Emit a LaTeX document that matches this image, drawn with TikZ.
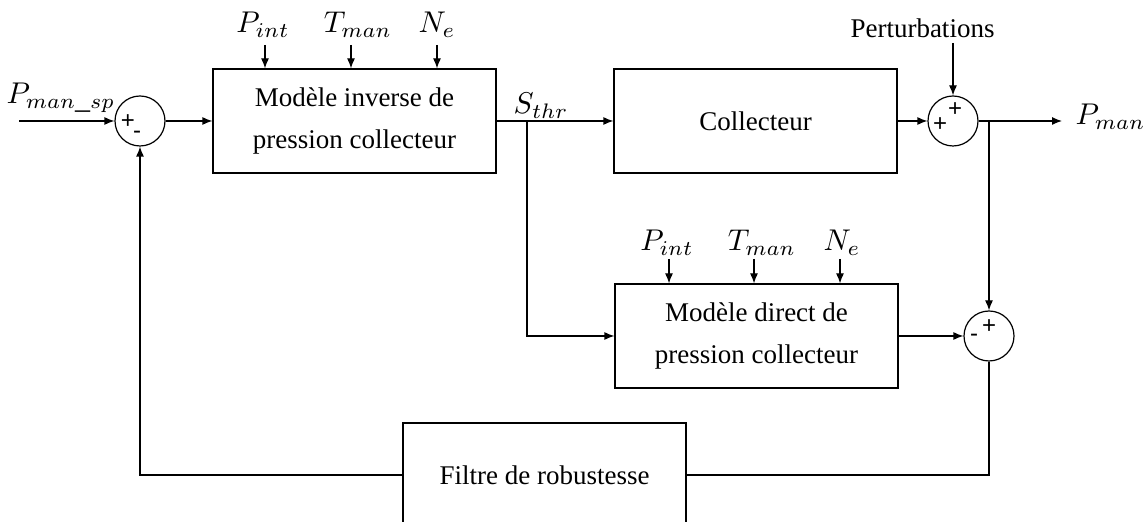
\documentclass[tikz,border=0pt]{standalone}
\usepackage{graphicx}
\usepackage{fontspec}
\setmainfont{Liberation Serif}
\setsansfont{Liberation Sans}
\usetikzlibrary{arrows.meta,calc}
\newcommand{\mathlbl}[1]{\scalebox{1.5}{$#1$}}
\begin{document}
\begin{tikzpicture}[x=0.5pt,y=-0.5pt,
  line width=0.6pt,
  blk/.style={draw,minimum width=141.5pt,minimum height=52pt,inner sep=0pt,align=center,font=\fontsize{13.5}{21}\selectfont},
  sumc/.style={draw,circle,minimum size=25pt,inner sep=0pt},
  sgn/.style={inner sep=0pt,font=\fontsize{12}{12}\sffamily},
  lbl/.style={inner sep=0pt,anchor=base,font=\fontsize{10}{10}\selectfont},
  txt/.style={inner sep=0pt,anchor=base,font=\fontsize{13.5}{16}\selectfont},
  arr/.style={-{Latex[length=5pt,width=4pt]}}]
\useasboundingbox (0,0) rectangle (1145,522);

% blocks and summing junctions
\node[sumc] (s1) at (140,121) {};
\node[blk] (inv) at (354.5,121) {Modèle inverse de\\pression collecteur};
\node[blk] (col) at (755.5,121) {Collecteur};
\node[sumc] (s2) at (953,121) {};
\node[blk] (dir) at (756.5,336) {Modèle direct de\\pression collecteur};
\node[sumc] (s3) at (989,336) {};
\node[blk] (fil) at (544.5,475) {Filtre de robustesse};

% signs
\node[sgn] (s1p) at ($(s1)+(-12,1)$) {+};
\node[sgn] (s1m) at ($(s1)+(-3,14)$) {-};
\node[sgn] (s2a) at ($(s2)+(-13,4)$) {+};
\node[sgn] (s2b) at ($(s2)+(2,-11)$) {+};
\node[sgn] (s3m) at ($(s3)+(-15,2)$) {-};
\node[sgn] (s3p) at ($(s3)+(0,-9)$) {+};

% labels
\node[lbl] (psp) at (61,104) {\mathlbl{P_{man\_sp}}};
\node[lbl] (pi1) at (263,33) {\mathlbl{P_{int}}};
\node[lbl] (tm1) at (358,33) {\mathlbl{T_{man}}};
\node[lbl] (ne1) at (437,33) {\mathlbl{N_e}};
\node[lbl] (pi2) at (667,251) {\mathlbl{P_{int}}};
\node[lbl] (tm2) at (762,251) {\mathlbl{T_{man}}};
\node[lbl] (ne2) at (842,251) {\mathlbl{N_e}};
\node[lbl] (sthr) at (541,114) {\mathlbl{S_{thr}}};
\node[lbl,anchor=base west] (pman) at (1075,125) {\mathlbl{P_{man}}};
\node[txt] (pert) at (922.5,38) {Perturbations};

% free ends
\coordinate (in) at (19,121);
\coordinate (a1) at (265,45);
\coordinate (a2) at (351,45);
\coordinate (a3) at (437,45);
\coordinate (b1) at (669,259);
\coordinate (b2) at (754,259);
\coordinate (b3) at (840,259);
\coordinate (pt) at (953,43);
\coordinate (out) at (1062,121);
\coordinate (br1) at (527,121);
\coordinate (br2) at (989,121);

% connectors
\draw[arr] (in) -- (s1.west);
\draw[arr] (s1.east) -- (inv.west);
\draw[arr] (a1) -- (a1 |- inv.north);
\draw[arr] (a2) -- (a2 |- inv.north);
\draw[arr] (a3) -- (a3 |- inv.north);
\draw[arr] (inv.east) -- (col.west);
\draw[arr] (br1) |- (dir.west);
\draw[arr] (b1) -- (b1 |- dir.north);
\draw[arr] (b2) -- (b2 |- dir.north);
\draw[arr] (b3) -- (b3 |- dir.north);
\draw[arr] (col.east) -- (s2.west);
\draw[arr] (pt) -- (s2.north);
\draw[arr] (s2.east) -- (out);
\draw[arr] (br2) -- (s3.north);
\draw[arr] (dir.east) -- (s3.west);
\draw (s3.south) |- (fil.east);
\draw[arr] (fil.west) -| (s1.south);
\end{tikzpicture}
\end{document}
